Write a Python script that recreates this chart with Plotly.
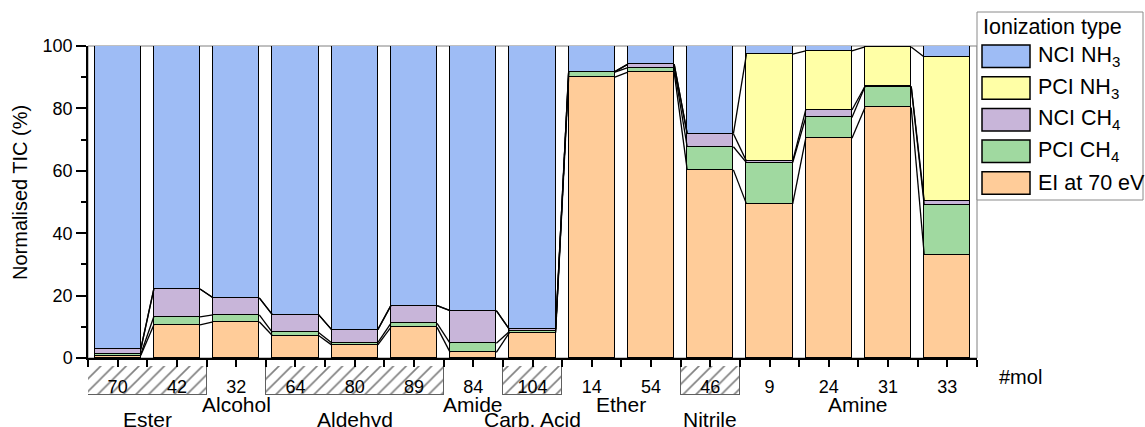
import plotly.graph_objects as go

# ---------------- data ----------------
mol = ["70", "42", "32", "64", "80", "89", "84", "104", "14", "54", "46", "9", "24", "31", "33"]
group = ["Ester", "Ester", "Alcohol", "Aldehyd", "Aldehyd", "Aldehyd", "Amide", "Carb. Acid",
         "Ether", "Ether", "Nitrile", "Amine", "Amine", "Amine", "Amine"]
hatched_groups = ["Ester", "Aldehyd", "Carb. Acid", "Nitrile"]

ei_70ev = [0.8, 10.6, 11.6, 7.2, 4.2, 9.8, 1.8, 8.1, 90.0, 91.6, 60.3, 49.4, 70.4, 80.3, 33.0]
pci_ch4 = [0.4, 2.6, 2.2, 1.0, 0.7, 1.3, 2.9, 0.4, 1.6, 1.5, 7.4, 13.2, 6.7, 6.7, 16.0]
nci_ch4 = [1.6, 8.9, 5.5, 5.7, 4.2, 5.7, 10.5, 0.7, 0.2, 1.1, 4.2, 0.5, 2.4, 0.1, 1.3]
pci_nh3 = [0.0, 0.0, 0.0, 0.0, 0.0, 0.0, 0.0, 0.0, 0.0, 0.0, 0.0, 34.3, 18.9, 12.6, 46.2]
nci_nh3 = [97.2, 77.9, 80.7, 86.1, 90.9, 83.2, 84.8, 90.8, 8.2, 5.8, 28.1, 2.6, 1.6, 0.3, 3.5]

series_names = ["EI at 70 eV", "PCI CH<sub>4</sub>", "NCI CH<sub>4</sub>", "PCI NH<sub>3</sub>", "NCI NH<sub>3</sub>"]
series_values = [ei_70ev, pci_ch4, nci_ch4, pci_nh3, nci_nh3]
series_colors = ["#FFCC99", "#A0D9A0", "#C8B5D9", "#FFFFA6", "#9EBCF5"]
y_title = "Normalised TIC (%)"

# ---------------- style / geometry ----------------
W, H = 1145, 427
ML, MR, MT, MB = 88, 168, 46, 0
PW, PH = W - ML - MR, H - MT - MB
FONT = "Liberation Sans, Arial, sans-serif"
BAR_W = 0.78


def px(xp):
    return (xp - ML) / PW


def py(yp):
    return (H - MB - yp) / PH


main_dom = [py(358), 1.0]
box_dom = [py(395), py(366)]

x = list(range(len(mol)))
fig = go.Figure()

# hatched boxes around x tick labels (subplot x/y, drawn first so labels sit above)
for gname in hatched_groups:
    idx = [i for i, g in enumerate(group) if g == gname]
    center = (min(idx) + max(idx)) / 2
    width = max(idx) - min(idx) + 1
    fig.add_bar(x=[center], y=[1], width=[width], base=0, xaxis="x", yaxis="y",
                showlegend=False, hoverinfo="skip",
                marker=dict(color="rgba(0,0,0,0)", line=dict(color="#606060", width=1),
                            pattern=dict(shape="/", fgcolor="#808080", bgcolor="rgba(0,0,0,0)",
                                         size=9, solidity=0.18, fillmode="replace")))

# stacked bars
for name, vals, col in zip(series_names, series_values, series_colors):
    fig.add_bar(x=x, y=vals, name=name, width=BAR_W, xaxis="x2", yaxis="y2", showlegend=False,
                marker=dict(color=col, line=dict(color="black", width=1.5)))

# connecting lines between stacked levels
cum = [0.0] * len(mol)
for vals in series_values[:-1]:
    cum = [c + v for c, v in zip(cum, vals)]
    xs, ys = [], []
    for i in range(len(mol) - 1):
        xs += [x[i] + BAR_W / 2, x[i + 1] - BAR_W / 2, None]
        ys += [cum[i], cum[i + 1], None]
    fig.add_scatter(x=xs, y=ys, mode="lines", xaxis="x2", yaxis="y2", showlegend=False,
                    hoverinfo="skip", line=dict(color="black", width=1.3))

annotations = []
# group labels (alternating rows)
groups_unique = []
for g in group:
    if g not in groups_unique:
        groups_unique.append(g)
for k, gname in enumerate(groups_unique):
    idx = [i for i, g in enumerate(group) if g == gname]
    center = sum(idx) / len(idx)
    yrow = py(419) if k % 2 == 0 else py(404)
    annotations.append(dict(text=gname, x=center, xref="x2", y=yrow, yref="paper",
                            showarrow=False, xanchor="center", yanchor="middle",
                            font=dict(size=21, family=FONT, color="black")))

annotations.append(dict(text="#mol", x=px(1020), y=py(377), xref="paper", yref="paper",
                        showarrow=False, xanchor="center", yanchor="middle",
                        font=dict(size=20, family=FONT, color="black")))

# y axis title
annotations.append(dict(text=y_title, x=px(20), y=py(193), xref="paper", yref="paper",
                        showarrow=False, textangle=-90, xanchor="center", yanchor="middle",
                        font=dict(size=20, family=FONT, color="black")))

shapes = [dict(type="rect", xref="paper", yref="paper", x0=0, x1=1, y0=main_dom[0], y1=1,
               line=dict(color="#808080", width=1), layer="below")]

# manual legend
shapes.append(dict(type="rect", xref="paper", yref="paper", x0=px(977), x1=px(1143),
                   y0=py(200), y1=py(12), line=dict(color="#8a8a8a", width=1),
                   fillcolor="white", layer="above"))
annotations.append(dict(text="Ionization type", x=px(981), y=py(27), xref="paper", yref="paper",
                        showarrow=False, xanchor="left", yanchor="middle",
                        font=dict(size=21.5, family=FONT, color="black")))
leg_items = list(zip(series_names, series_colors))[::-1]
for i, (name, col) in enumerate(leg_items):
    top = 45 + 31.7 * i
    shapes.append(dict(type="rect", xref="paper", yref="paper", x0=px(982), x1=px(1030),
                       y0=py(top + 22.5), y1=py(top), fillcolor=col,
                       line=dict(color="black", width=1.5), layer="above"))
    annotations.append(dict(text=name, x=px(1036), y=py(top + 11.5), xref="paper", yref="paper",
                            showarrow=False, xanchor="left", yanchor="middle",
                            font=dict(size=21.5, family=FONT, color="black")))

fig.update_layout(
    width=W, height=H, autosize=False,
    margin=dict(l=ML, r=MR, t=MT, b=MB, pad=0, autoexpand=False),
    paper_bgcolor="white", plot_bgcolor="white",
    barmode="stack", bargap=0,
    font=dict(family=FONT, color="black", size=18),
    xaxis=dict(domain=[0, 1], range=[-0.5, len(mol) - 0.5], anchor="y", visible=False,
               fixedrange=True, automargin=False),
    yaxis=dict(domain=box_dom, range=[0, 1], anchor="x", visible=False, fixedrange=True,
               automargin=False),
    xaxis2=dict(domain=[0, 1], range=[-0.5, len(mol) - 0.5], anchor="y2", automargin=False,
                tickvals=x, ticktext=mol, ticks="outside", ticklen=7, tickwidth=1.5,
                tickcolor="black", showline=True, linecolor="black", linewidth=1.5,
                showgrid=False, zeroline=False, ticklabelstandoff=5,
                tickfont=dict(size=18, family=FONT, color="black"),
                minor=dict(tick0=-0.5, dtick=0.5, ticks="outside", ticklen=7, tickwidth=1.5,
                           tickcolor="black", showgrid=False)),
    yaxis2=dict(domain=main_dom, range=[0, 100], anchor="x2", automargin=False,
                tickvals=[0, 20, 40, 60, 80, 100], ticks="outside", ticklen=10, tickwidth=1.5,
                tickcolor="black", showline=True, linecolor="black", linewidth=1.5,
                showgrid=False, zeroline=False,
                tickfont=dict(size=18, family=FONT, color="black"),
                minor=dict(dtick=10, ticks="outside", ticklen=5, tickwidth=1.5,
                           tickcolor="black", showgrid=False)),
    shapes=shapes,
    annotations=annotations,
)

fig.write_html("out.html", config={"displayModeBar": False},
               post_script="document.body.style.margin='0';document.body.style.overflow='hidden';")
